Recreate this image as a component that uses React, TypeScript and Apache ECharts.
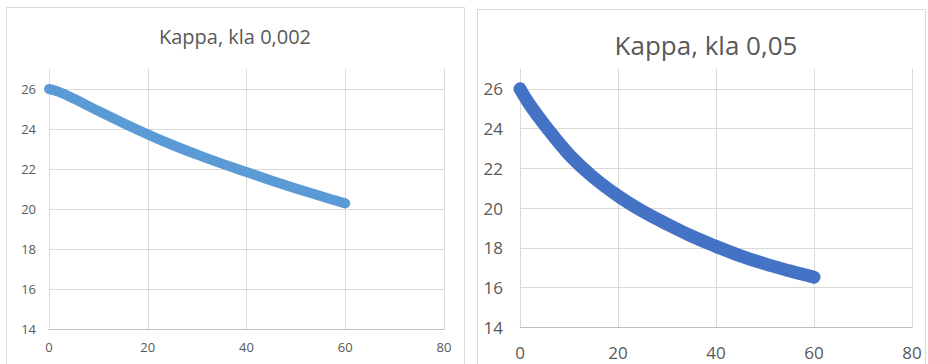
import React, { useEffect, useRef } from "react";
import * as echarts from "echarts";

const xValues = [0, 2, 5, 10, 15, 20, 25, 30, 35, 40, 45, 50, 55, 60];
const kappaKla0002 = [26.0, 25.86, 25.52, 24.9, 24.3, 23.73, 23.2, 22.72, 22.27, 21.85, 21.43, 21.03, 20.65, 20.28];
const xValues2 = [0, 2, 5, 10, 15, 20, 25, 30, 35, 40, 45, 50, 55, 60];
const kappaKla005 = [26.0, 25.2, 24.2, 22.7, 21.55, 20.62, 19.85, 19.2, 18.6, 18.08, 17.6, 17.2, 16.85, 16.53];
const titles = ["Kappa, kla 0,002", "Kappa, kla 0,05"];

const FONT = "'Open Sans', 'Noto Sans', sans-serif";
const GRID_COLOR = "#D9D9D9";
const TEXT_COLOR = "#595959";

export default function App() {
  const ref = useRef<HTMLDivElement>(null);
  useEffect(() => {
    if (!ref.current) return;
    const chart = echarts.init(ref.current, null, { renderer: "svg" });
    const xAxisBase = (gridIndex: number, fontSize: number, margin: number) => ({
      type: "value",
      gridIndex,
      min: 0,
      max: 80,
      interval: 20,
      axisLine: { show: true, lineStyle: { color: "#BFBFBF", width: 1 } },
      axisTick: { show: false },
      axisLabel: { color: TEXT_COLOR, fontSize, fontFamily: FONT, margin },
      splitLine: { show: true, lineStyle: { color: GRID_COLOR, width: 1 } },
    });
    const yAxisBase = (gridIndex: number, fontSize: number, margin: number) => ({
      type: "value",
      gridIndex,
      min: 14,
      max: 27,
      interval: 2,
      axisLine: { show: false },
      axisTick: { show: false },
      axisLabel: { color: TEXT_COLOR, fontSize, fontFamily: FONT, margin, showMaxLabel: false },
      splitLine: { show: true, showMaxLine: false, lineStyle: { color: GRID_COLOR, width: 1 } },
    });
    chart.setOption({
      animation: false,
      backgroundColor: "#ffffff",
      grid: [
        { left: 49, right: 484, top: 69, bottom: 35 },
        { left: 520, right: 16, top: 69, bottom: 36.5 },
      ],
      xAxis: [xAxisBase(0, 13, 11), xAxisBase(1, 17, 16)],
      yAxis: [yAxisBase(0, 13, 13), yAxisBase(1, 17, 17)],
      graphic: [
        {
          type: "rect",
          shape: { x: 6.5, y: 7.5, width: 458, height: 370 },
          style: { fill: "none", stroke: GRID_COLOR, lineWidth: 1 },
          silent: true,
        },
        {
          type: "rect",
          shape: { x: 477.5, y: 9.5, width: 448, height: 370 },
          style: { fill: "none", stroke: GRID_COLOR, lineWidth: 1 },
          silent: true,
        },
        {
          type: "text",
          x: 235,
          y: 36,
          style: {
            text: titles[0],
            fill: TEXT_COLOR,
            font: `20px ${FONT}`,
            textAlign: "center",
            textVerticalAlign: "middle",
          },
        },
        {
          type: "text",
          x: 706,
          y: 45,
          style: {
            text: titles[1],
            fill: TEXT_COLOR,
            font: `26px ${FONT}`,
            textAlign: "center",
            textVerticalAlign: "middle",
          },
        },
      ],
      series: [
        {
          type: "line",
          xAxisIndex: 0,
          yAxisIndex: 0,
          data: xValues.map((x, i) => [x, kappaKla0002[i]]),
          smooth: 0.4,
          showSymbol: false,
          lineStyle: { color: "#5B9BD5", width: 10, cap: "round", join: "round" },
        },
        {
          type: "line",
          xAxisIndex: 1,
          yAxisIndex: 1,
          data: xValues2.map((x, i) => [x, kappaKla005[i]]),
          smooth: 0.4,
          showSymbol: false,
          lineStyle: { color: "#4472C4", width: 13, cap: "round", join: "round" },
        },
      ],
    });
    return () => chart.dispose();
  }, []);
  return (
    <div
      ref={ref}
      style={{ position: "fixed", left: 0, top: 0, width: 928, height: 364, background: "#fff" }}
    />
  );
}
